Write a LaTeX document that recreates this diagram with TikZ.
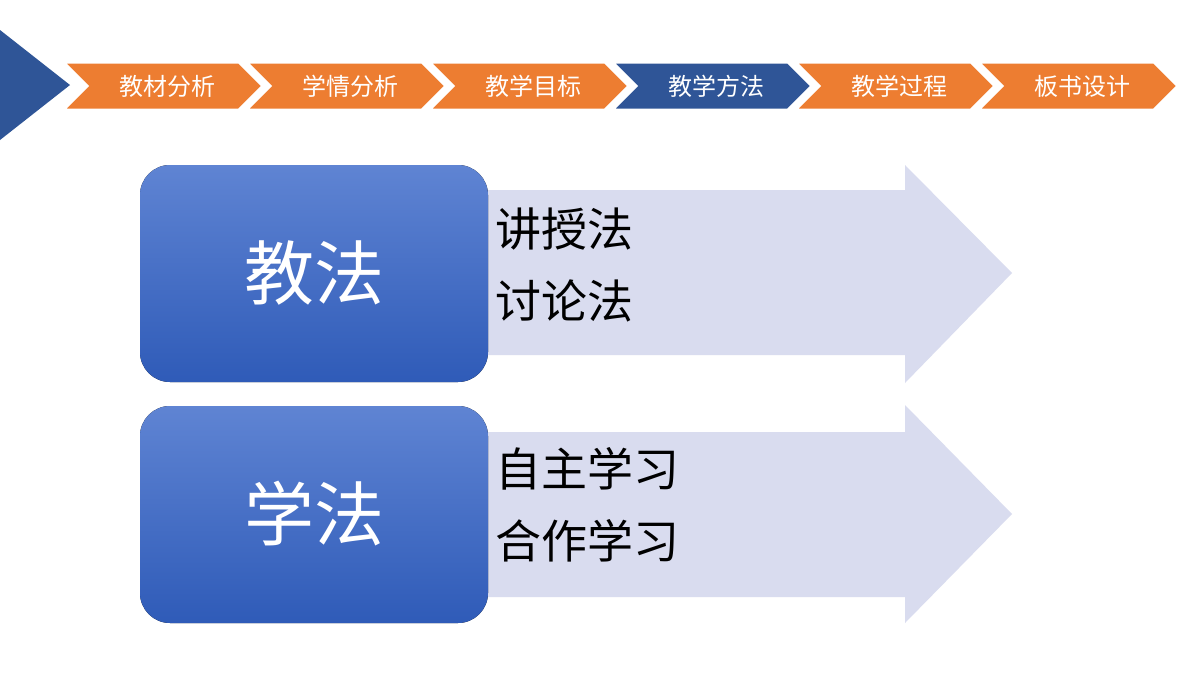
\documentclass[tikz,border=0pt]{standalone}
\usepackage{fontspec}
\newfontfamily\cjk{Noto Sans CJK SC}
\definecolor{dblue}{HTML}{2F5597}
\definecolor{orng}{HTML}{ED7D31}
\definecolor{lav}{HTML}{D9DCEF}
\definecolor{btop}{HTML}{5F84D3}
\definecolor{bbot}{HTML}{2F5BB8}
\tikzset{chev/.style={draw=white,line width=1.5pt},
 ctext/.style={text=white,font=\cjk\fontsize{12}{14}\selectfont},
 bbox/.style={rounded corners=15pt,top color=btop,bottom color=bbot,draw=none},
 btext/.style={text=white,font=\cjk\fontsize{35}{40}\selectfont},
 ltext/.style={text=black,font=\cjk\fontsize{23}{36}\selectfont,align=left,anchor=west}}
\begin{document}
\begin{tikzpicture}[x=0.5pt,y=-0.5pt]
\useasboundingbox (0,0) rectangle (1200,675);
\fill[white] (0,0) rectangle (1200,675);
\fill[dblue] (0,30) -- (70,85) -- (0,140) -- cycle;
\foreach \i/\t in {0/教材分析,1/学情分析,2/教学目标,3/教学方法,4/教学过程,5/板书设计}{
  \pgfmathsetmacro\xo{63+183*\i}
  \ifnum\i=3 \def\cc{dblue}\else\def\cc{orng}\fi
  \filldraw[chev,fill=\cc] (\xo,62) -- (\xo+176,62) -- (\xo+200,86) -- (\xo+176,110) -- (\xo,110) -- (\xo+24,86) -- cycle;
  \node[ctext] (c\i) at (\xo+104,86) {\t};
}
\fill[lav] (440,190) -- (905,190) -- (905,165) -- (1012,273) -- (905,383) -- (905,355) -- (440,355) -- cycle;
\fill[lav] (440,432) -- (905,432) -- (905,405) -- (1012,514) -- (905,623) -- (905,597) -- (440,597) -- cycle;
\fill[bbox] (140,165) rectangle (488,382);
\fill[bbox] (140,406) rectangle (488,623);
\node[btext] (j) at (314,273) {教法};
\node[btext] (x) at (314,514) {学法};
\node[ltext] (l1) at (488,265) {讲授法\\讨论法};
\node[ltext] (l2) at (488,505) {自主学习\\合作学习};
\end{tikzpicture}
\end{document}
